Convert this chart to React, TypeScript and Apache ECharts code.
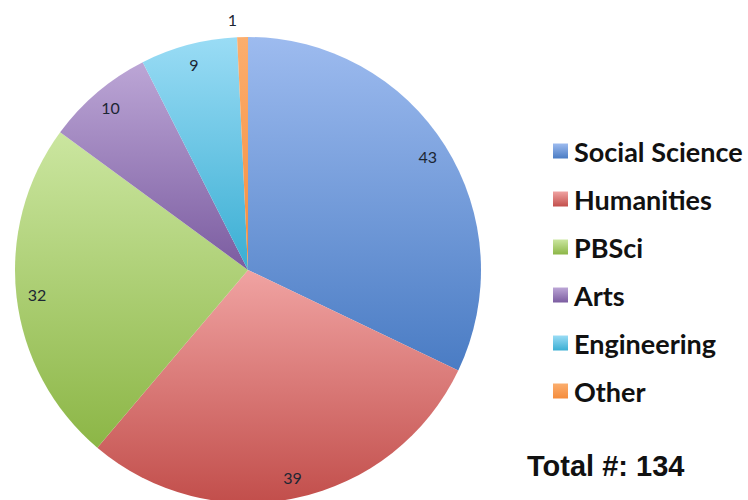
import React, { useEffect, useRef } from "react";
import * as echarts from "echarts";

const categories = ["Social Science", "Humanities", "PBSci", "Arts", "Engineering", "Other"];
const values = [43, 39, 32, 10, 9, 1];
const topColors = ["#9dbbef", "#f0a3a2", "#cbe6a0", "#bca6d6", "#9adcf5", "#fbae6e"];
const bottomColors = ["#4a7cc4", "#c24e4b", "#8cb646", "#7b5ca0", "#3aaed3", "#f58c3c"];
const totalLabel = "Total #: 134";

export default function App() {
  const ref = useRef<HTMLDivElement>(null);
  useEffect(() => {
    document.body.style.margin = "0";
    const chart = echarts.init(ref.current!, null, { renderer: "svg" });
    const grad = (i: number) =>
      new echarts.graphic.LinearGradient(0, 0, 0, 1, [
        { offset: 0, color: topColors[i] },
        { offset: 1, color: bottomColors[i] },
      ]);
    const mainData = categories.map((name, i) => ({
      name,
      value: values[i],
      itemStyle: { color: grad(i) },
    }));
    const labelData = categories.map((name, i) => {
      const isSmall = values[i] < 5;
      return {
        name,
        value: values[i],
        label: isSmall
          ? { position: "outside", show: true }
          : { position: "inside", show: true },
        labelLine: { show: false, length: 18, length2: 0 },
      };
    });
    chart.setOption({
      animation: false,
      backgroundColor: "#ffffff",
      legend: {
        orient: "vertical",
        left: 548,
        top: 132,
        itemWidth: 15,
        itemHeight: 15,
        itemGap: 20,
        icon: "rect",
        data: categories,
        selectedMode: false,
        textStyle: {
          fontFamily: "Lato",
          fontWeight: "bold",
          fontSize: 27,
          color: "#111111",
          lineHeight: 28,
          padding: [0, 0, 0, 1],
        },
      },
      graphic: [
        {
          type: "text",
          left: 527,
          top: 451,
          style: {
            text: totalLabel,
            fontFamily: "Liberation Sans",
            fontWeight: "bold",
            fontSize: 29,
            fill: "#111111",
          },
        },
      ],
      series: [
        {
          type: "pie",
          center: [248, 270],
          radius: 233,
          startAngle: 90,
          clockwise: true,
          silent: true,
          label: { show: false },
          labelLine: { show: false },
          itemStyle: { borderWidth: 0 },
          emphasis: { disabled: true },
          data: mainData,
        },
        {
          type: "pie",
          center: [248, 270],
          radius: [186, 233],
          startAngle: 90,
          clockwise: true,
          silent: true,
          itemStyle: { color: "transparent", borderWidth: 0 },
          emphasis: { disabled: true },
          label: {
            show: true,
            formatter: "{c}",
            fontFamily: "Lato",
            fontSize: 16,
            color: "#1c2633",
          },
          data: labelData,
        },
      ],
    });
    return () => chart.dispose();
  }, []);
  return <div ref={ref} style={{ width: 748, height: 500 }} />;
}
